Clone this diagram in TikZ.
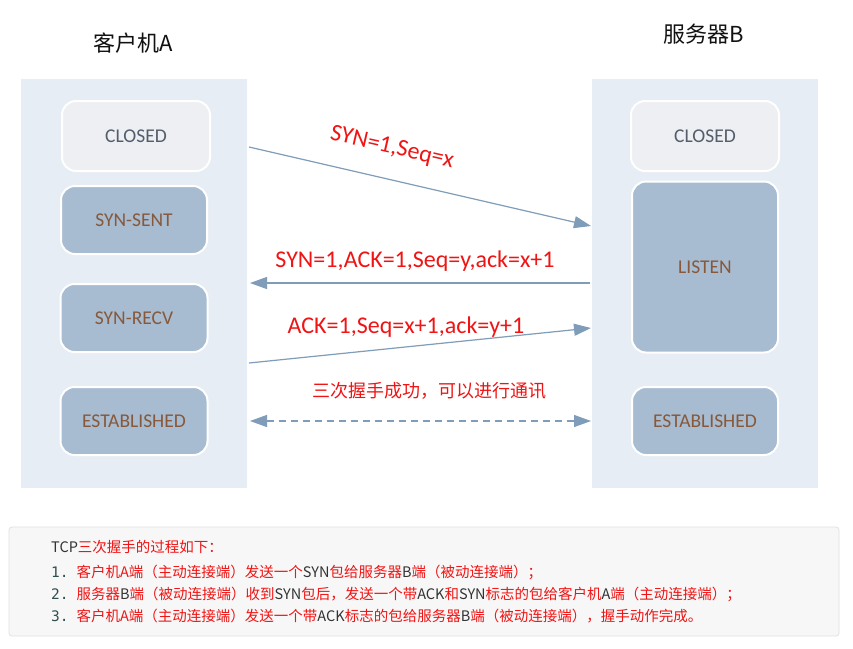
\documentclass[tikz,border=0pt]{standalone}
\usepackage{fontspec}
\setmainfont{Carlito}
\newfontfamily\cjk{Noto Sans CJK SC}
\newfontfamily\monofnt{DejaVu Sans Mono}
\usetikzlibrary{arrows.meta}
\definecolor{panelc}{HTML}{E6EDF4}
\definecolor{lightc}{HTML}{EDEFF3}
\definecolor{darkc}{HTML}{A7BCD1}
\definecolor{brownc}{HTML}{87583A}
\definecolor{greyc}{HTML}{535D6B}
\definecolor{arrowc}{HTML}{7F9CB8}
\definecolor{redc}{HTML}{F01414}
\definecolor{notebg}{HTML}{F7F7F7}
\definecolor{noteln}{HTML}{E2E2E2}
\definecolor{numc}{HTML}{2F4F4F}
\definecolor{latc}{HTML}{333333}
\definecolor{titlec}{HTML}{111111}
\newcommand\redtxt[1]{\textcolor{redc}{#1}}
\newcommand\darktxt[1]{\textcolor{latc}{#1}}
\begin{document}
\begin{tikzpicture}[x=1pt,y=-1pt,
  panel/.style={fill=panelc, draw=none, inner sep=0pt},
  lightbox/.style={fill=lightc, draw=white, line width=2pt, rounded corners=14pt, inner sep=0pt, text=greyc, font=\fontsize{19.5}{22}\selectfont},
  darkbox/.style={fill=darkc, draw=white, line width=2pt, rounded corners=14pt, inner sep=0pt, text=brownc, font=\fontsize{19.5}{22}\selectfont},
  title/.style={text=titlec, font=\cjk\fontsize{22}{26}\selectfont, inner sep=0pt},
  msg/.style={text=redc, font=\fontsize{24}{26}\selectfont, inner sep=0pt},
  msgcn/.style={text=redc, font=\cjk\fontsize{18}{20}\selectfont, inner sep=0pt},
  flow/.style={draw=arrowc, line width=1.2pt, -{Triangle[length=17pt,width=12pt,fill=arrowc]}},
  flowboth/.style={draw=arrowc, line width=1.2pt, dash pattern=on 7pt off 5pt,
     {Triangle[length=17pt,width=12pt,fill=arrowc]}-{Triangle[length=17pt,width=12pt,fill=arrowc]}},
  noteline/.style={anchor=west, inner sep=0pt, font=\cjk\fontsize{14.5}{16}\selectfont}
]
\useasboundingbox (0,0) rectangle (853,648);
\fill[white] (0,0) rectangle (853,648);

% titles
\node[title] (tA) at (133,43) {客户机A};
\node[title] (tB) at (704,34) {服务器B};

% panels
\node[panel, minimum width=226pt, minimum height=409pt] (panA) at (134,283.5) {};
\node[panel, minimum width=226pt, minimum height=409pt] (panB) at (705,283.5) {};

% client states
\node[lightbox, minimum width=148pt, minimum height=70pt] (aclosed) at (136,136) {CLOSED};
\node[darkbox, minimum width=146pt, minimum height=68pt] (asent) at (134,220) {SYN-SENT};
\node[darkbox, minimum width=147pt, minimum height=68pt] (arecv) at (134,318) {SYN-RECV};
\node[darkbox, minimum width=147pt, minimum height=68pt] (aest) at (134,421) {ESTABLISHED};

% server states
\node[lightbox, minimum width=148pt, minimum height=70pt] (bclosed) at (705,136) {CLOSED};
\node[darkbox, minimum width=146pt, minimum height=171pt] (blisten) at (705,267) {};
\node[text=brownc, font=\fontsize{19.5}{22}\selectfont, inner sep=0pt] (blistent) at (705,267) {LISTEN};
\node[darkbox, minimum width=146pt, minimum height=68pt] (best) at (705,421) {ESTABLISHED};

% arrow end points
\coordinate (s1) at (249,147);
\coordinate (e1) at (591,226);
\coordinate (s2) at (590,283);
\coordinate (e2) at (250,283);
\coordinate (s3) at (249,363);
\coordinate (e3) at (591,328);
\coordinate (s4) at (250,421);
\coordinate (e4) at (591,421);

\draw[flow] (s1) -- (e1);
\draw[flow] (s2) -- (e2);
\draw[flow] (s3) -- (e3);
\draw[flowboth] (s4) -- (e4);

% labels
\node[msg, rotate=-13] (l1) at (392,148) {SYN=1,Seq=x};
\node[msg] (l2) at (415,261) {SYN=1,ACK=1,Seq=y,ack=x+1};
\node[msg] (l3) at (406,327) {ACK=1,Seq=x+1,ack=y+1};
\node[msgcn] (l4) at (429,391) {三次握手成功，可以进行通讯};

% note box
\node[fill=notebg, draw=noteln, line width=0.8pt, rounded corners=3pt, minimum width=830pt, minimum height=109pt, inner sep=0pt] (note) at (424,581.5) {};
\node[noteline] (n0) at (51,547) {\darktxt{TCP}\redtxt{三次握手的过程如下：}};
\node[noteline] (n1) at (51,572) {{\monofnt\color{numc}1.}\hspace{8pt}\redtxt{客户机A端（主动连接端）发送一个}\darktxt{SYN}\redtxt{包给服务器}\darktxt{B}\redtxt{端（被动连接端）；}};
\node[noteline] (n2) at (51,594) {{\monofnt\color{numc}2.}\hspace{8pt}\redtxt{服务器}\darktxt{B}\redtxt{端（被动连接端）收到}\darktxt{SYN}\redtxt{包后，发送一个带}\darktxt{ACK}\redtxt{和}\darktxt{SYN}\redtxt{标志的包给客户机}\darktxt{A}\redtxt{端（主动连接端）；}};
\node[noteline] (n3) at (51,616) {{\monofnt\color{numc}3.}\hspace{8pt}\redtxt{客户机A端（主动连接端）发送一个带}\darktxt{ACK}\redtxt{标志的包给服务器}\darktxt{B}\redtxt{端（被动连接端），握手动作完成。}};
\end{tikzpicture}
\end{document}
